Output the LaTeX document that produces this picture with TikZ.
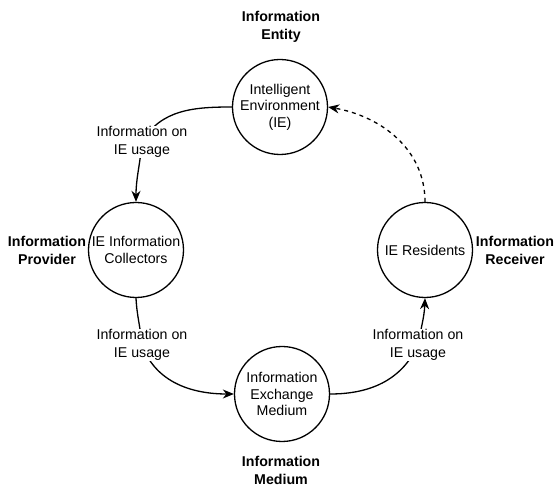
\documentclass[tikz,border=0pt]{standalone}
\usepackage{fontspec}
\setmainfont{Liberation Sans}
\usetikzlibrary{arrows.meta}

\begin{document}
\begin{tikzpicture}[x=1pt,y=-1pt,
        party/.style={circle,draw,line width=1.3pt,minimum size=95pt,inner sep=0pt,align=center,font=\fontsize{14.2}{16.5}\selectfont},
        role/.style={align=center,font=\fontsize{14.2}{18}\selectfont\bfseries},
        usage/.style={align=center,fill=white,inner sep=0pt,font=\fontsize{14.2}{18}\selectfont},
        flow/.style={line width=1.3pt,-{Stealth[length=11pt,width=9pt,inset=3.5pt]}}]
    \useasboundingbox (0,0) rectangle (555,486);

    % the four parties
    \node[party] (ie) at (280,107) {Intelligent\\Environment\\(IE)};
    \node[party] (col) at (136,250) {IE Information\\Collectors};
    \node[party] (res) at (425,250) {IE Residents};
    \node[party] (med) at (282,394) {Information\\Exchange\\Medium};

    % roles
    \node[role] (entity) at (281,27) {Information\\Entity};
    \node[role] (provider) at (47,250) {Information\\Provider};
    \node[role] (receiver) at (515,250) {Information\\Receiver};
    \node[role] (medium) at (281,470) {Information\\Medium};

    % flows
    \coordinate (u1pos) at (142,142);
    \coordinate (u2pos) at (142,345);
    \coordinate (u3pos) at (418,345);
    \draw[flow] (ie.west) to[out=180,in=60] (u1pos) to[out=-95,in=90] (col.north);
    \draw[flow] (col.south) to[out=-87,in=95] (u2pos) to[out=-70,in=180] (med.west);
    \draw[flow] (med.east) to[out=0,in=-115] (u3pos) to[out=80,in=-92] (res.south);
    \draw[flow,dash pattern=on 4pt off 4pt] (res.north) to[out=90,in=-10] (ie.east);

    \node[usage] (u1) at (u1pos) {Information on\\IE usage};
    \node[usage] (u2) at (u2pos) {Information on\\IE usage};
    \node[usage] (u3) at (u3pos) {Information on\\IE usage};
\end{tikzpicture}
\end{document}
